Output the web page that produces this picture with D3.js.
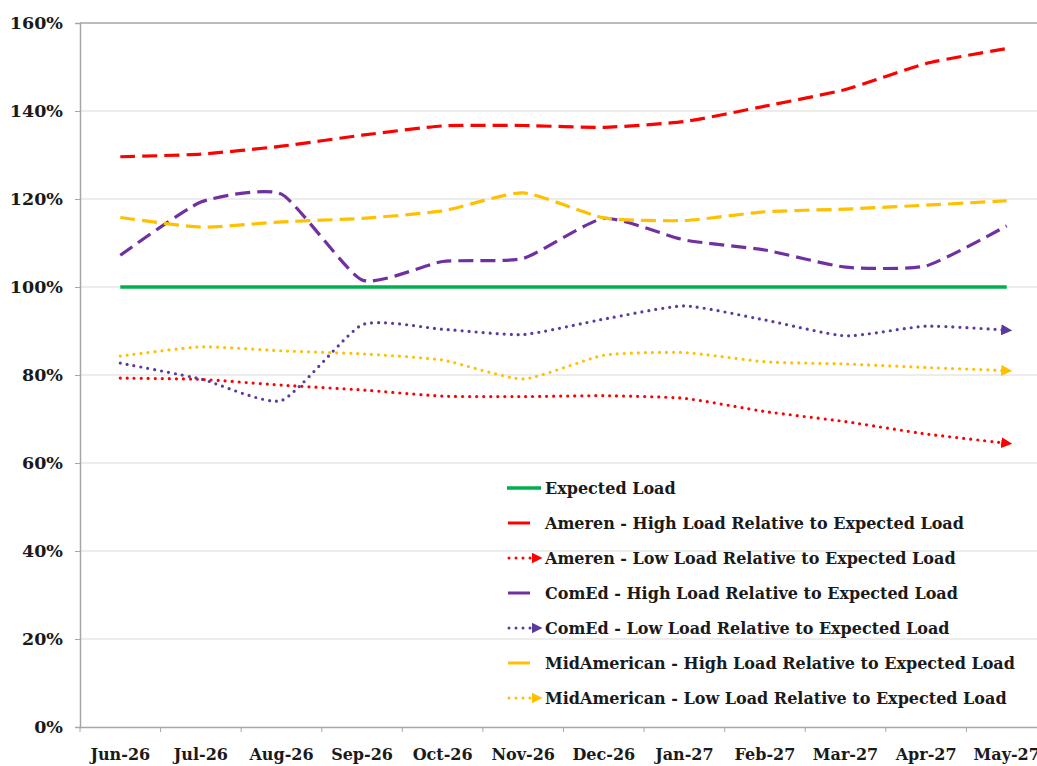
<!DOCTYPE html>
<html><head><meta charset="utf-8">
<script src="https://cdn.jsdelivr.net/npm/d3@7"></script>
<style>body{margin:0;background:#fff;}svg{display:block;}</style>
</head><body><svg id="c" width="1037" height="766"></svg>
<script>
const categories = ["Jun-26","Jul-26","Aug-26","Sep-26","Oct-26","Nov-26","Dec-26","Jan-27","Feb-27","Mar-27","Apr-27","May-27"];
const yTicks = [0,20,40,60,80,100,120,140,160];
const expectedLoad   = [100,100,100,100,100,100,100,100,100,100,100,100];
const amerenHigh     = [129.6,130.2,132.0,134.5,136.6,136.7,136.3,137.6,141.1,144.9,150.8,154.2];
const amerenLow      = [79.3,79.0,77.7,76.6,75.2,75.1,75.3,74.7,71.7,69.4,66.6,64.5];
const comedHigh      = [107.2,119.3,121.1,101.6,105.8,106.5,115.6,110.7,108.4,104.5,104.8,113.9];
const comedLow       = [82.7,79.1,74.2,91.4,90.4,89.2,92.7,95.7,92.5,88.9,91.1,90.2];
const midamHigh      = [115.8,113.6,114.8,115.6,117.3,121.4,115.7,115.1,117.1,117.7,118.6,119.6];
const midamLow       = [84.3,86.4,85.5,84.8,83.4,79.1,84.5,85.1,83.0,82.5,81.7,81.0];

const series = [
  {name:"Expected Load", values:expectedLoad, color:"#00B050", style:"solid"},
  {name:"Ameren - High Load Relative to Expected Load", values:amerenHigh, color:"#FF0000", style:"dash"},
  {name:"Ameren - Low Load Relative to Expected Load", values:amerenLow, color:"#FF0000", style:"dot"},
  {name:"ComEd - High Load Relative to Expected Load", values:comedHigh, color:"#7030A0", style:"dash"},
  {name:"ComEd - Low Load Relative to Expected Load", values:comedLow, color:"#5B3AA0", style:"dot"},
  {name:"MidAmerican - High Load Relative to Expected Load", values:midamHigh, color:"#FFC000", style:"dash"},
  {name:"MidAmerican - Low Load Relative to Expected Load", values:midamLow, color:"#FFC000", style:"dot"}
];

const svg = d3.select("#c");
const mLeft = 80, mTop = 23, mBottom = 727, mRight = 1047;
const FONT = "'DejaVu Serif', serif";

const x = d3.scaleBand().domain(categories).range([mLeft, mRight]).paddingInner(0).paddingOuter(0);
const y = d3.scaleLinear().domain([0,160]).range([mBottom, mTop]);
const cx = c => x(c) + x.bandwidth()/2;

// markers
const defs = svg.append("defs");
series.filter(s=>s.style==="dot").forEach((s,i)=>{
  defs.append("marker").attr("id","arr"+i).attr("viewBox","0 0 10 10").attr("refX",5).attr("refY",5)
    .attr("markerWidth",11).attr("markerHeight",11).attr("markerUnits","userSpaceOnUse").attr("orient","auto")
    .append("path").attr("d","M0,0L10,5L0,10Z").attr("fill",s.color);
  s.marker = "arr"+i;
});

// gridlines
svg.append("g").selectAll("line").data(yTicks.filter(d=>d>0)).join("line")
  .attr("x1",mLeft).attr("x2",1037).attr("y1",d=>y(d)).attr("y2",d=>y(d))
  .attr("stroke",d=>d===160?"#A6A6A6":"#D9D9D9").attr("stroke-width",d=>d===160?1.5:1);

// y axis
const yAxis = d3.axisLeft(y).tickValues(yTicks).tickSize(5).tickFormat(d=>d+"%");
const gy = svg.append("g").attr("transform",`translate(${mLeft},0)`).call(yAxis);
gy.select(".domain").attr("stroke","#A6A6A6").attr("stroke-width",1.5);
gy.selectAll(".tick line").attr("stroke","#A6A6A6");
gy.selectAll("text").attr("x",-17).attr("font-family",FONT).attr("font-weight","bold").attr("font-size",17.5).attr("fill","#1a1a1a");

// x axis
const xAxis = d3.axisBottom(x).tickSize(0);
const gx = svg.append("g").attr("transform",`translate(0,${mBottom})`).call(xAxis);
gx.select(".domain").attr("stroke","#A6A6A6").attr("stroke-width",1.5);
gx.selectAll("text").attr("y",22).attr("font-family",FONT).attr("font-weight","bold").attr("font-size",16).attr("fill","#1a1a1a");
svg.append("g").selectAll("line").data(categories).join("line")
  .attr("x1",d=>x(d)).attr("x2",d=>x(d)).attr("y1",mBottom).attr("y2",mBottom+5).attr("stroke","#A6A6A6");

// lines
const line = d3.line().x((d,i)=>cx(categories[i])).y(d=>y(d)).curve(d3.curveCardinal.tension(0.45));
const styleOf = s => s.style==="dash" ? "15,7" : s.style==="dot" ? "0,7" : null;
series.forEach(s=>{
  const p = svg.append("path").datum(s.values).attr("d",line).attr("fill","none")
    .attr("stroke",s.color).attr("stroke-width",s.style==="solid"?3.5:3.2)
    .attr("stroke-linecap",s.style==="dot"?"round":"butt");
  if(styleOf(s)) p.attr("stroke-dasharray",styleOf(s));
  if(s.marker) p.attr("marker-end",`url(#${s.marker})`);
});

// legend
const lg = svg.append("g");
series.forEach((s,i)=>{
  const yy = 488 + i*35;
  const g = lg.append("g");
  if(s.style==="solid"){
    g.append("line").attr("x1",507).attr("x2",541).attr("y1",yy).attr("y2",yy).attr("stroke",s.color).attr("stroke-width",3.5);
  } else if(s.style==="dash"){
    g.append("line").attr("x1",508).attr("x2",530).attr("y1",yy).attr("y2",yy).attr("stroke",s.color).attr("stroke-width",3);
  } else {
    g.append("line").attr("x1",509).attr("x2",537).attr("y1",yy).attr("y2",yy).attr("stroke",s.color).attr("stroke-width",3)
      .attr("stroke-dasharray","0,7").attr("stroke-linecap","round").attr("marker-end",`url(#${s.marker})`);
  }
  g.append("text").attr("x",545).attr("y",yy).attr("dy","0.35em").attr("font-family",FONT).attr("font-weight","bold")
    .attr("font-size",16).attr("fill","#1a1a1a").text(s.name);
});
</script></body></html>
